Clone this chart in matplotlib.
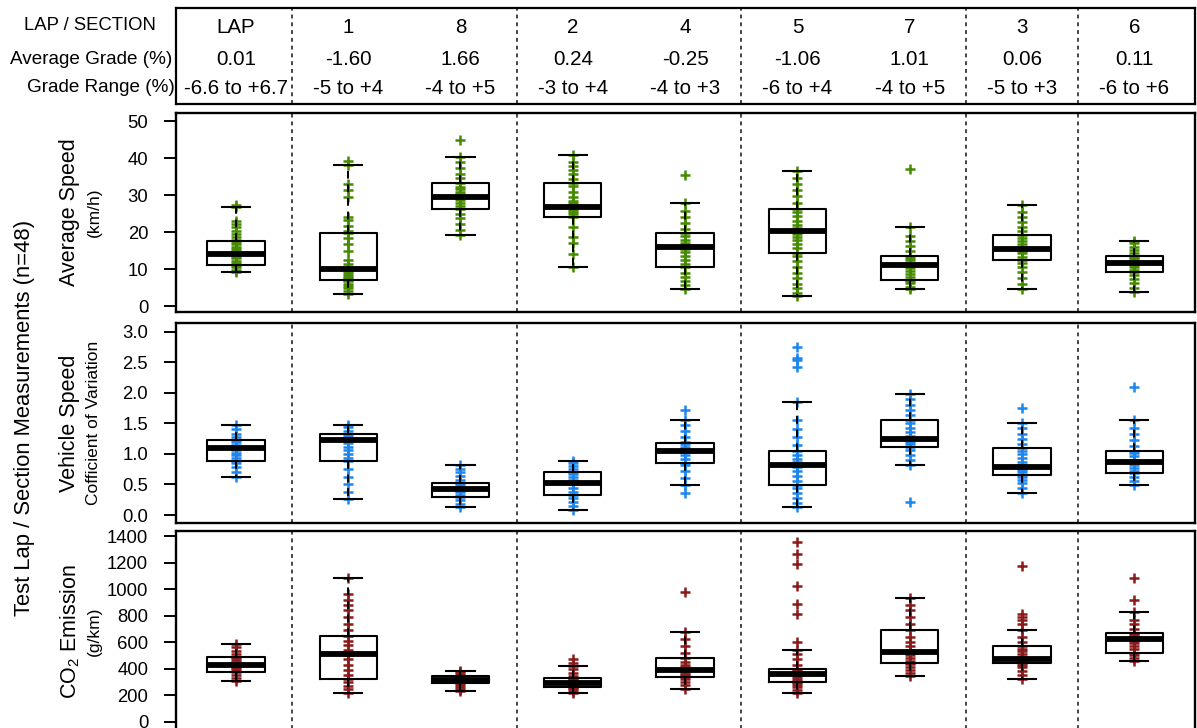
import matplotlib
matplotlib.use("Agg")
import matplotlib.pyplot as plt

plt.rcParams['font.family'] = ['Liberation Sans', 'DejaVu Sans']
plt.rcParams['mathtext.fontset'] = 'custom'
plt.rcParams['mathtext.rm'] = 'Liberation Sans'

# ---- table / categories ----
sections = ['LAP', '1', '8', '2', '4', '5', '7', '3', '6']
avg_grade = ['0.01', '-1.60', '1.66', '0.24', '-0.25', '-1.06', '1.01', '0.06', '0.11']
grade_range = ['-6.6 to +6.7', '-5 to +4', '-4 to +5', '-3 to +4', '-4 to +3',
               '-6 to +4', '-4 to +5', '-5 to +3', '-6 to +6']
dividers = [1.5, 3.5, 5.5, 7.5, 8.5]

# ---- box statistics (whislo, q1, med, q3, whishi) ----
speed_box = [
    (9.3, 11.0, 14.1, 17.6, 26.8),
    (3.4, 7.1, 10.0, 19.8, 38.3),
    (19.2, 26.2, 29.5, 33.4, 40.3),
    (10.5, 24.0, 26.8, 33.4, 41.0),
    (4.5, 10.5, 16.0, 19.8, 27.9),
    (2.8, 14.3, 20.3, 26.3, 36.6),
    (4.5, 7.1, 11.0, 13.7, 21.3),
    (4.5, 12.5, 15.4, 19.3, 27.3),
    (3.9, 9.3, 11.7, 13.7, 17.5),
]
cv_box = [
    (0.63, 0.88, 1.09, 1.22, 1.48),
    (0.26, 0.88, 1.23, 1.32, 1.48),
    (0.13, 0.29, 0.43, 0.53, 0.82),
    (0.09, 0.32, 0.53, 0.70, 0.89),
    (0.49, 0.85, 1.05, 1.18, 1.55),
    (0.13, 0.49, 0.82, 1.05, 1.85),
    (0.82, 1.11, 1.25, 1.56, 1.98),
    (0.36, 0.65, 0.79, 1.09, 1.51),
    (0.49, 0.69, 0.86, 1.05, 1.55),
]
co2_box = [
    (309, 372, 430, 490, 584),
    (219, 324, 508, 644, 1081),
    (234, 290, 317, 347, 385),
    (219, 264, 292, 327, 418),
    (247, 340, 388, 480, 674),
    (219, 297, 360, 400, 538),
    (342, 445, 523, 692, 930),
    (324, 443, 470, 569, 689),
    (460, 520, 626, 671, 825),
]

# ---- individual measurements (approximate, read from the markers) ----
speed_pts = [
    [9.3, 9.8, 10.5, 11.0, 11.2, 11.8, 12.3, 12.9, 13.4, 13.8, 14.1, 14.3, 14.6, 15.0, 15.5,
     16.1, 16.8, 17.4, 17.8, 18.6, 19.5, 20.4, 21.3, 22.1, 23.0, 26.8, 27.5],
    [3.4, 4.0, 4.8, 5.5, 6.0, 6.7, 7.1, 7.5, 8.0, 8.4, 8.9, 9.4, 10.0, 10.3, 11.5, 12.5, 14.8,
     16.9, 18.5, 19.8, 20.3, 21.8, 23.4, 24.0, 29.6, 31.5, 33.2, 38.3, 39.3],
    [19.2, 20.5, 22.1, 23.9, 25.0, 26.2, 27.1, 28.0, 28.7, 29.2, 29.5, 29.9, 30.4, 31.0, 31.6,
     32.3, 33.4, 34.6, 35.8, 37.5, 38.9, 40.3, 44.9],
    [10.5, 14.0, 17.0, 18.8, 21.5, 24.0, 24.9, 25.6, 26.1, 26.5, 26.8, 27.2, 27.8, 28.5, 29.5,
     31.0, 32.4, 33.4, 34.5, 35.8, 36.9, 38.0, 39.0, 41.0],
    [4.5, 5.6, 6.7, 7.9, 9.0, 10.5, 11.5, 12.6, 13.5, 14.6, 15.4, 16.0, 16.5, 17.2, 18.0, 18.9,
     19.8, 20.9, 22.5, 24.0, 25.8, 27.9, 35.5],
    [2.8, 3.6, 4.8, 6.0, 7.5, 9.0, 10.6, 12.1, 13.5, 14.3, 15.6, 16.9, 17.8, 18.7, 19.6, 20.3,
     21.2, 22.0, 23.1, 24.4, 25.5, 26.3, 28.0, 29.7, 31.4, 33.0, 34.7, 36.6],
    [4.5, 5.3, 6.2, 6.9, 7.1, 7.8, 8.6, 9.4, 10.3, 11.0, 11.6, 12.4, 13.1, 13.7, 15.0, 16.4,
     17.6, 19.0, 21.3, 37.0],
    [4.5, 6.1, 7.6, 9.2, 10.6, 11.8, 12.5, 13.4, 14.3, 15.0, 15.4, 16.1, 16.8, 17.6, 18.5, 19.3,
     20.4, 21.5, 22.7, 24.1, 25.6, 27.3],
    [3.9, 5.0, 6.2, 7.3, 8.4, 9.3, 9.9, 10.5, 11.0, 11.4, 11.7, 12.0, 12.4, 12.9, 13.3, 13.7,
     14.4, 15.2, 16.1, 17.0, 17.5],
]
cv_pts = [
    [0.63, 0.70, 0.78, 0.85, 0.88, 0.93, 0.98, 1.02, 1.06, 1.09, 1.12, 1.15, 1.19, 1.22, 1.27,
     1.33, 1.40, 1.48],
    [0.26, 0.38, 0.50, 0.62, 0.76, 0.88, 0.94, 1.00, 1.06, 1.12, 1.18, 1.23, 1.26, 1.29, 1.32,
     1.38, 1.44, 1.48],
    [0.13, 0.18, 0.24, 0.29, 0.33, 0.37, 0.40, 0.43, 0.46, 0.49, 0.53, 0.58, 0.64, 0.70, 0.76, 0.82],
    [0.09, 0.15, 0.22, 0.28, 0.32, 0.38, 0.44, 0.50, 0.53, 0.57, 0.62, 0.67, 0.70, 0.75, 0.80,
     0.85, 0.89],
    [0.36, 0.49, 0.60, 0.72, 0.82, 0.85, 0.92, 0.98, 1.03, 1.05, 1.08, 1.12, 1.16, 1.20, 1.28,
     1.38, 1.47, 1.55, 1.72],
    [0.13, 0.20, 0.28, 0.36, 0.45, 0.49, 0.56, 0.64, 0.72, 0.78, 0.82, 0.86, 0.92, 0.98, 1.05,
     1.15, 1.28, 1.40, 1.55, 1.85, 2.42, 2.53, 2.57, 2.75],
    [0.22, 0.82, 0.90, 0.98, 1.06, 1.11, 1.16, 1.20, 1.24, 1.26, 1.30, 1.35, 1.42, 1.50, 1.56,
     1.63, 1.72, 1.80, 1.90, 1.98],
    [0.36, 0.45, 0.52, 0.58, 0.63, 0.66, 0.70, 0.74, 0.77, 0.79, 0.82, 0.87, 0.93, 0.99, 1.05,
     1.09, 1.16, 1.24, 1.33, 1.42, 1.51, 1.755],
    [0.49, 0.55, 0.62, 0.68, 0.72, 0.77, 0.82, 0.86, 0.90, 0.96, 1.02, 1.05, 1.13, 1.22, 1.32,
     1.42, 1.55, 2.10],
]
co2_pts = [
    [309, 330, 352, 372, 388, 402, 415, 425, 432, 440, 452, 465, 478, 490, 510, 535, 560, 584],
    [219, 245, 270, 300, 324, 355, 390, 430, 470, 500, 515, 540, 575, 610, 644, 690, 740, 790,
     840, 880, 920, 960, 1081],
    [234, 250, 265, 280, 290, 298, 305, 312, 317, 322, 330, 338, 347, 360, 372, 385],
    [219, 232, 245, 256, 264, 272, 280, 287, 292, 298, 305, 313, 320, 327, 345, 370, 395, 418,
     445, 473],
    [247, 275, 300, 322, 340, 350, 362, 375, 388, 400, 415, 430, 450, 480, 520, 570, 620, 674, 978],
    [219, 240, 258, 275, 290, 297, 310, 325, 340, 352, 360, 368, 378, 390, 400, 430, 470, 510,
     538, 601, 810, 885, 1023, 1189, 1267, 1353],
    [342, 365, 390, 415, 435, 445, 460, 480, 500, 515, 523, 540, 570, 600, 640, 692, 740, 790,
     840, 880, 930],
    [324, 355, 385, 410, 430, 443, 452, 460, 465, 470, 478, 490, 510, 530, 550, 569, 600, 640,
     689, 735, 766, 790, 810, 1172],
    [460, 480, 500, 520, 545, 570, 595, 610, 620, 626, 635, 645, 660, 671, 700, 735, 770, 825,
     920, 1081],
]

W, H = 1197, 728
fig = plt.figure(figsize=(W / 100, H / 100), dpi=100)


def px_axes(left, top, right, bottom):
    return fig.add_axes([left / W, 1 - bottom / H, (right - left) / W, (bottom - top) / H])


xlim = (0.467, 9.54)
positions = list(range(1, len(sections) + 1))

# ---- table on top ----
tab = px_axes(176, 8, 1195, 104)
tab.set_xlim(*xlim)
tab.set_ylim(0, 1)
tab.set_xticks([])
tab.set_yticks([])
for s in tab.spines.values():
    s.set_linewidth(1.6)
for d in dividers:
    tab.axvline(d, color='#444444', lw=1.4, ls=(0, (2, 2)))
for i, p in enumerate(positions):
    tab.text(p, 0.80, sections[i], ha='center', va='center', fontsize=14.8)
    tab.text(p, 0.465, avg_grade[i], ha='center', va='center', fontsize=14.8)
    tab.text(p, 0.16, grade_range[i], ha='center', va='center', fontsize=14.8)
fig.text(90 / W, 1 - 26 / H, 'LAP / SECTION', ha='center', va='center', fontsize=13.3)
fig.text(172 / W, 1 - 59 / H, 'Average Grade (%)', ha='right', va='center', fontsize=13.6)
fig.text(175 / W, 1 - 88 / H, 'Grade Range (%)', ha='right', va='center', fontsize=13.6)

panels = [
    (113, 312, speed_box, speed_pts, '#458B00', (-1.6, 52.3), [0, 10, 20, 30, 40, 50], '{:.0f}',
     'Average Speed', '(km/h)'),
    (323, 523, cv_box, cv_pts, '#1C86EE', (-0.13, 3.14), [0, 0.5, 1.0, 1.5, 2.0, 2.5, 3.0],
     '{:.1f}', 'Vehicle Speed', 'Cofficient of Variation'),
    (531, 732, co2_box, co2_pts, '#8B1A1A', (-78, 1438), list(range(0, 1401, 200)), '{:.0f}',
     'CO$_\\mathregular{2}$ Emission', '(g/km)'),
]

for top, bottom, box, pts, col, ylim, yt, fmt, lab1, lab2 in panels:
    ax = px_axes(176, top, 1195, bottom)
    for i, p in enumerate(positions):
        ax.plot([p] * len(pts[i]), pts[i], ls='none', marker='+', ms=7, mew=1.8,
                color=col, zorder=2)
    stats = [dict(whislo=b[0], q1=b[1], med=b[2], q3=b[3], whishi=b[4], fliers=[]) for b in box]
    ax.bxp(stats, positions=positions, widths=0.51, capwidths=0.25, showfliers=False,
           manage_ticks=False,
           boxprops=dict(color='black', lw=1.5),
           medianprops=dict(color='black', lw=4.2, solid_capstyle='butt'),
           whiskerprops=dict(color='black', lw=1.4, ls=(0, (4, 3))),
           capprops=dict(color='black', lw=1.5))
    for d in dividers:
        ax.axvline(d, color='#444444', lw=1.4, ls=(0, (2, 2)), zorder=1)
    ax.set_xlim(*xlim)
    ax.set_ylim(*ylim)
    ax.set_xticks([])
    ax.set_yticks(yt)
    ax.set_yticklabels([fmt.format(v) for v in yt], fontsize=13.3)
    ax.tick_params(axis='y', direction='out', length=9, width=1.4, pad=11)
    for s in ax.spines.values():
        s.set_linewidth(1.7)
    yc = 1 - (top + bottom) / 2 / H
    fig.text(70 / W, yc, lab1, rotation=90, ha='center', va='center', fontsize=15.5)
    fig.text(94 / W, yc, lab2, rotation=90, ha='center', va='center', fontsize=12.5)

fig.text(25 / W, 1 - 418 / H, 'Test Lap / Section Measurements (n=48)', rotation=90,
         ha='center', va='center', fontsize=15.8)

fig.savefig('out.png', dpi=100)
